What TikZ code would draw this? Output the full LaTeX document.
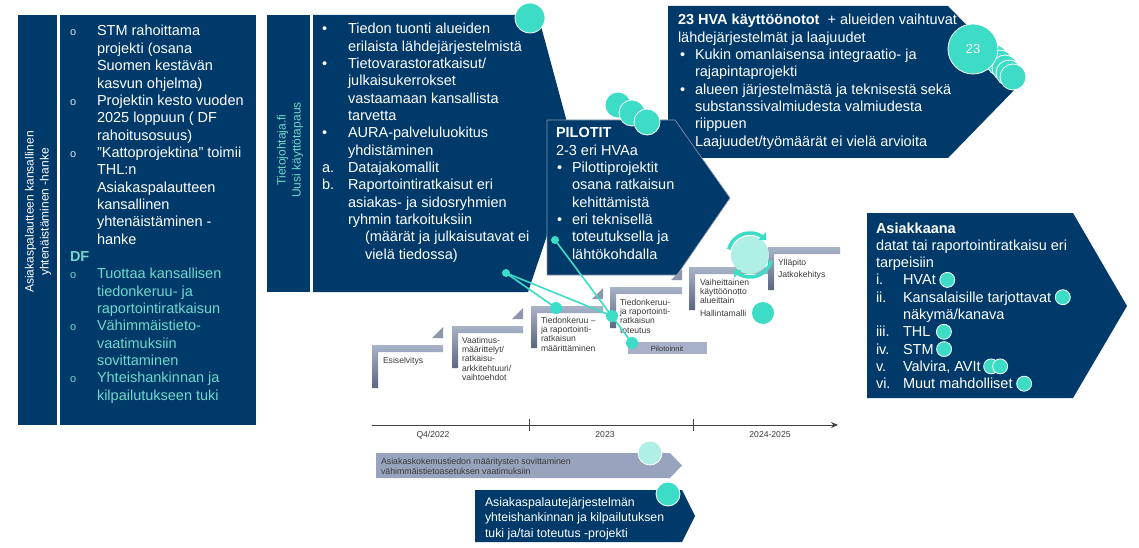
\documentclass[tikz,border=0pt]{standalone}
\usepackage{fontspec}
\setmainfont{Liberation Sans}
\usetikzlibrary{arrows.meta}
\definecolor{hvnavy}{HTML}{003A6B}
\definecolor{hvteal}{HTML}{3CDCC6}
\definecolor{hvtealtext}{HTML}{6FD8CA}
\definecolor{hvlightteal}{HTML}{B0EFE6}
\definecolor{stepdark}{HTML}{5B6782}
\definecolor{steplight}{HTML}{A9B3C8}
\definecolor{steptri}{HTML}{8C97AE}
\definecolor{pilotbar}{HTML}{A7B1C9}
\definecolor{bargray}{HTML}{98A3BD}
\definecolor{smalltext}{HTML}{3A3A3A}

% stacked lines whose baseline is the first line
\newcommand\lns[1]{\begin{tabular}[t]{@{}l@{}}#1\end{tabular}}
% one L-shaped stair step: x, y (top left), width, height
\newcommand\hvstep[4]{%
  \shade[stepbar] (#1,#2) -- (#1+#3,#2) -- (#1+#3,#2+7) -- (#1+6,#2+7)
    -- (#1+6,#2+#4) -- (#1,#2+#4) -- cycle;}
% small corner wedge above the end of a step
\newcommand\hvwedge[2]{%
  \fill[steptri] (#1-11,#2-7) -- (#1,#2-18) -- (#1,#2-7) -- cycle;}

\begin{document}
\begin{tikzpicture}[x=1pt,y=-1pt,
  every node/.style={inner sep=0pt, outer sep=0pt},
  body/.style={font=\fontsize{14.5}{17.4}\selectfont, text=white, anchor=base west},
  bodyteal/.style={body, text=hvtealtext},
  bodybold/.style={body, font=\fontsize{14.5}{17.4}\selectfont\bfseries},
  obul/.style={font=\fontsize{11}{13}\selectfont, text=white!85!hvnavy, anchor=base west},
  vlabel/.style={font=\fontsize{12}{15}\selectfont, rotate=90, align=center},
  small/.style={font=\fontsize{8.6}{9.4}\selectfont, text=smalltext, anchor=base west},
  panel/.style={fill=hvnavy},
  tdot/.style={circle, fill=hvteal, draw=white, line width=0.8pt, minimum size=#1},
  ldot/.style={circle, fill=hvlightteal, draw=white, line width=0.8pt, minimum size=#1},
  link/.style={draw=hvteal, line width=1.6pt},
  stepbar/.style={top color=steplight, bottom color=stepdark},
  cyc/.style={draw=hvteal, line width=3.5pt, -{Triangle[length=6pt,width=10pt]}},
  axisline/.style={draw=black!75, line width=0.9pt},
]
\useasboundingbox (0,0) rectangle (1139,548);
\fill[white] (0,0) rectangle (1139,548);

% ---------- left panel: national project ----------
\fill[panel] (18,15) rectangle (57,425);
\fill[panel] (60,15) rectangle (256,425);
\node[vlabel, text=white] (lp-title) at (38,212) {Asiakaspalautteen kansallinen\\yhtenäistäminen -hanke};
\node[obul] (lp-b1) at (70,36) {o};
\node[body] (lp-t1) at (97,36) {\lns{STM rahoittama\\projekti (osana\\Suomen kestävän\\kasvun ohjelma)}};
\node[obul] (lp-b2) at (70,105.3) {o};
\node[body] (lp-t2) at (97,105.3) {\lns{Projektin kesto vuoden\\2025 loppuun ( DF\\rahoitusosuus)}};
\node[obul] (lp-b3) at (70,157.3) {o};
\node[body] (lp-t3) at (97,157.3) {\lns{”Kattoprojektina” toimii\\THL:n\\Asiakaspalautteen\\kansallinen\\yhtenäistäminen -\\hanke}};
\node[bodybold, text=hvtealtext] (lp-df) at (70,261.3) {DF};
\node[obul, text=hvtealtext] (lp-b4) at (70,278.6) {o};
\node[bodyteal] (lp-t4) at (97,278.6) {\lns{Tuottaa kansallisen\\tiedonkeruu- ja\\raportointiratkaisun}};
\node[obul, text=hvtealtext] (lp-b5) at (70,330.6) {o};
\node[bodyteal] (lp-t5) at (97,330.6) {\lns{Vähimmäistieto-\\vaatimuksiin\\sovittaminen}};
\node[obul, text=hvtealtext] (lp-b6) at (70,382.6) {o};
\node[bodyteal] (lp-t6) at (97,382.6) {\lns{Yhteishankinnan ja\\kilpailutukseen tuki}};

% ---------- middle panel: new use case ----------
\fill[panel] (267,15) rectangle (310,292);
\fill[panel] (313,15) -- (538,15) -- (575,152) -- (528,292) -- (313,292) -- cycle;
\node[vlabel, text=hvtealtext] (mp-title) at (290,150) {Tietojohtaja.fi\\Uusi käyttötapaus};
\node[body] (mp-b1) at (322,34) {•};
\node[body] (mp-t1) at (348,34) {\lns{Tiedon tuonti alueiden\\erilaista lähdejärjestelmistä}};
\node[body] (mp-b2) at (322,68.6) {•};
\node[body] (mp-t2) at (348,68.6) {\lns{Tietovarastoratkaisut/\\julkaisukerrokset\\vastaamaan kansallista\\tarvetta}};
\node[body] (mp-b3) at (322,137.8) {•};
\node[body] (mp-t3) at (348,137.8) {\lns{AURA-palveluluokitus\\yhdistäminen}};
\node[body] (mp-a) at (322,172.4) {a.};
\node[body] (mp-ta) at (348,172.4) {Datajakomallit};
\node[body] (mp-b) at (322,189.7) {b.};
\node[body] (mp-tb) at (348,189.7) {\lns{Raportointiratkaisut eri\\asiakas- ja sidosryhmien\\ryhmin tarkoituksiin}};
\node[body] (mp-note) at (365,241.6) {\lns{(määrät ja julkaisutavat ei\\vielä tiedossa)}};
\node[tdot=30pt] (mp-dot) at (530,18) {};

% ---------- top right: 23 deployments ----------
\fill[panel] (668,6) -- (948,6) -- (1022,82) -- (948,158) -- (668,158) -- cycle;
\node[body] (tr-head) at (678,25) {\lns{\textbf{23 HVA käyttöönotot}\ \ + alueiden vaihtuvat\\lähdejärjestelmät ja laajuudet}};
\node[body] (tr-b1) at (680,59.6) {•};
\node[body] (tr-t1) at (695,59.6) {\lns{Kukin omanlaisensa integraatio- ja\\rajapintaprojekti}};
\node[body] (tr-b2) at (680,94.2) {•};
\node[body] (tr-t2) at (695,94.2) {\lns{alueen järjestelmästä ja teknisestä sekä\\substanssivalmiudesta valmiudesta\\riippuen\\Laajuudet/työmäärät ei vielä arvioita}};
\node[tdot=26pt] (tr-c1) at (995,58) {};
\node[tdot=26pt] (tr-c2) at (1000,63) {};
\node[tdot=26pt] (tr-c3) at (1005,68) {};
\node[tdot=26pt] (tr-c4) at (1009,73) {};
\node[tdot=26pt] (tr-c5) at (1013,77) {};
\node[tdot=50pt, text=white, font=\fontsize{13}{15}\selectfont] (tr-big) at (973,49) {23};

% ---------- pilots ----------
\filldraw[panel, draw=steptri, line width=0.6pt] (547,120) -- (675,120) -- (730,198) -- (677,275) -- (547,275) -- cycle;
\node[tdot=26pt] (pl-c1) at (618,105) {};
\node[tdot=26pt] (pl-c2) at (632,113) {};
\node[tdot=26pt] (pl-c3) at (647,122) {};
\node[bodybold] (pl-head) at (556,138) {PILOTIT};
\node[body] (pl-sub) at (556,155.3) {2-3 eri HVAa};
\node[body] (pl-b1) at (557,172.6) {•};
\node[body] (pl-t1) at (572,172.6) {\lns{Pilottiprojektit\\osana ratkaisun\\kehittämistä}};
\node[body] (pl-b2) at (557,224.5) {•};
\node[body] (pl-t2) at (572,224.5) {\lns{eri teknisellä\\toteutuksella ja\\lähtökohdalla}};

% ---------- customers ----------
\fill[panel] (867,213) -- (1073,213) -- (1127,306) -- (1073,398) -- (867,398) -- cycle;
\node[bodybold] (cu-head) at (876,233) {Asiakkaana};
\node[body] (cu-sub) at (876,250.3) {\lns{datat tai raportointiratkaisu eri\\tarpeisiin}};
\node[body] (cu-n1) at (876,284.9) {i.};
\node[body] (cu-t1) at (903,284.9) {HVAt};
\node[body] (cu-n2) at (876,302.2) {ii.};
\node[body] (cu-t2) at (903,302.2) {Kansalaisille tarjottavat};
\node[body] (cu-t2b) at (903,319.5) {näkymä/kanava};
\node[body] (cu-n3) at (876,336.8) {iii.};
\node[body] (cu-t3) at (903,336.8) {THL};
\node[body] (cu-n4) at (876,354.1) {iv.};
\node[body] (cu-t4) at (903,354.1) {STM};
\node[body] (cu-n5) at (876,371.4) {v.};
\node[body] (cu-t5) at (903,371.4) {Valvira, AVIt};
\node[body] (cu-n6) at (876,388.7) {vi.};
\node[body] (cu-t6) at (903,388.7) {Muut mahdolliset};
\node[tdot=15pt, anchor=west] (cu-d1) at ([xshift=4pt,yshift=5pt]cu-t1.base east) {};
\node[tdot=15pt, anchor=west] (cu-d2) at ([xshift=4pt,yshift=5pt]cu-t2.base east) {};
\node[tdot=15pt, anchor=west] (cu-d3) at ([xshift=6pt,yshift=5pt]cu-t3.base east) {};
\node[tdot=15pt, anchor=west] (cu-d4) at ([xshift=3pt,yshift=5pt]cu-t4.base east) {};
\node[tdot=15pt, anchor=west] (cu-d5) at ([xshift=3pt,yshift=5pt]cu-t5.base east) {};
\node[tdot=15pt, anchor=west] (cu-d5b) at ([xshift=12pt,yshift=5pt]cu-t5.base east) {};
\node[tdot=15pt, anchor=west] (cu-d6) at ([xshift=4pt,yshift=5pt]cu-t6.base east) {};

% ---------- staircase of phases ----------
\hvstep{372}{345}{71}{43}\hvwedge{443}{345}
\hvstep{452}{326}{71}{42}\hvwedge{523}{326}
\hvstep{531}{306}{72}{42}\hvwedge{603}{306}
\hvstep{610}{287}{72}{41}\hvwedge{682}{287}
\hvstep{689}{267}{79}{43}
\hvstep{768}{247}{72}{43}
\node[small] (st-1) at (383,363) {Esiselvitys};
\node[small] (st-2) at (462,343) {\lns{Vaatimus-\\määrittelyt/\\ratkaisu-\\arkkitehtuuri/\\vaihtoehdot}};
\node[small] (st-3) at (541,323) {\lns{Tiedonkeruu –\\ja raportointi-\\ratkaisun\\määrittäminen}};
\node[small] (st-4) at (620,305) {\lns{Tiedonkeruu-\\ja raportointi-\\ratkaisun\\toteutus}};
\node[small] (st-5) at (700,285) {\lns{Vaiheittainen\\käyttöönotto\\alueittain}};
\node[small] (st-5b) at (700,316) {Hallintamalli};
\node[small] (st-6) at (778,265) {Ylläpito};
\node[small] (st-6b) at (778,277) {Jatkokehitys};
\fill[pilotbar] (628,342) rectangle (707,354);
\node[font=\fontsize{7.5}{9}\selectfont, text=smalltext] (pilot-label) at (667,348.5) {Pilotoinnit};

% maintenance cycle symbol: light disc with two circling arrows
\node[circle, fill=hvlightteal, minimum size=38pt] (cyc-disc) at (750,255) {};
\draw[cyc] plot[domain=195:318, samples=25, variable=\t] ({750+22*cos(\t)},{255+22*sin(\t)});
\draw[cyc] plot[domain=15:138, samples=25, variable=\t] ({750+22*cos(\t)},{255+22*sin(\t)});
\node[tdot=22pt, draw=none] (hall-dot) at (763,313) {};

% links from the panels down to the phases
\coordinate (lk-a) at (506,273);
\coordinate (lk-b) at (556,308);
\coordinate (lk-c) at (612,316);
\coordinate (lk-d) at (555,240);
\coordinate (lk-e) at (632,343);
\draw[link] (lk-a) -- (lk-b);
\draw[link] (lk-a) -- (lk-c);
\draw[link] (lk-d) -- (lk-e);
\node[tdot=8pt, draw=none] (lk-a-dot) at (lk-a) {};
\node[tdot=12pt, draw=none] (lk-b-dot) at (lk-b) {};
\node[tdot=12pt, draw=none] (lk-c-dot) at (lk-c) {};
\node[tdot=8pt, draw=none] (lk-d-dot) at (lk-d) {};
\node[tdot=12pt, draw=none] (lk-e-dot) at (lk-e) {};

% ---------- timeline ----------
\coordinate (tl-start) at (372,425);
\coordinate (tl-end) at (838,425);
\draw[axisline, -{Stealth[length=7pt,width=6pt]}] (tl-start) -- (tl-end);
\draw[axisline] (529,419) -- (529,431);
\draw[axisline] (693,419) -- (693,431);
\node[small, anchor=base] (tl-q4) at (433,437) {Q4/2022};
\node[small, anchor=base] (tl-23) at (605,437) {2023};
\node[small, anchor=base] (tl-25) at (770,437) {2024-2025};

\fill[bargray] (376,453) -- (670,453) -- (682,465.5) -- (670,478) -- (376,478) -- cycle;
\node[small, font=\fontsize{8.8}{10}\selectfont] (bar1-text) at (381,464) {\lns{Asiakaskokemustiedon määritysten sovittaminen\\vähimmäistietoasetuksen vaatimuksiin}};
\node[ldot=24pt] (bar1-dot) at (650,453) {};

\fill[panel] (475,490) -- (682,490) -- (695,516) -- (682,542) -- (475,542) -- cycle;
\node[body, font=\fontsize{12.3}{15.5}\selectfont] (bar2-text) at (485,506) {\lns{Asiakaspalautejärjestelmän\\yhteishankinnan ja kilpailutuksen\\tuki ja/tai toteutus -projekti}};
\node[tdot=24pt] (bar2-dot) at (668,494) {};
\end{tikzpicture}
\end{document}
